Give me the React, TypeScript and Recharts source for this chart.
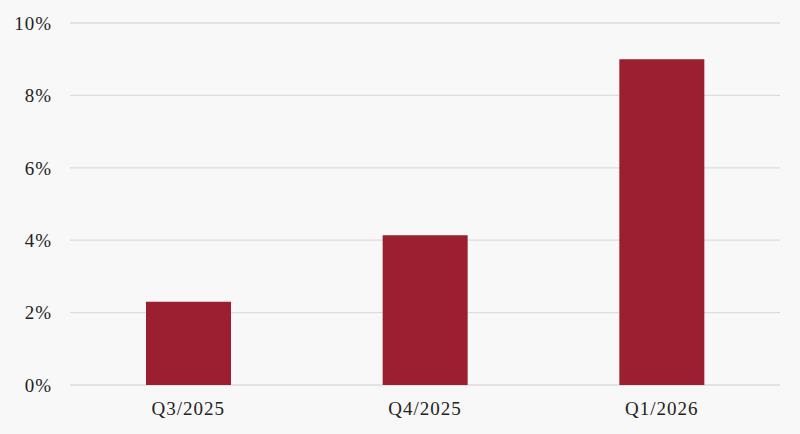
import React from 'react';
import { BarChart, Bar, XAxis, YAxis, CartesianGrid } from 'recharts';

const quarters = ['Q3/2025', 'Q4/2025', 'Q1/2026'];
const values = [2.3, 4.14, 9.0];
const yTicks = [0, 2, 4, 6, 8, 10];

const data = quarters.map((q, i) => ({ quarter: q, value: values[i] }));

const font = { fontFamily: '"Liberation Serif", serif', fontSize: 19, fill: '#222222', letterSpacing: 1 };

const App: React.FC = () => {
    return (
        <div style={{ position: 'fixed', left: 0, top: 0, width: 800, height: 434, background: '#f8f8f8' }}>
            <BarChart
                width={800}
                height={434}
                data={data}
                margin={{ top: 23, right: 20, left: 0, bottom: 19 }}
                barSize={85}
            >
                <CartesianGrid vertical={false} stroke="#dddddd" strokeWidth={1.3} />
                <XAxis
                    dataKey="quarter"
                    tickLine={false}
                    axisLine={false}
                    tick={font}
                    tickMargin={11}
                    height={30}
                />
                <YAxis
                    domain={[0, 10]}
                    ticks={yTicks}
                    tickFormatter={(v) => `${v}%`}
                    tickLine={false}
                    axisLine={false}
                    tick={font}
                    width={70}
                    tickSize={0}
                    tickMargin={18}
                />
                <Bar dataKey="value" fill="#9b1f30" isAnimationActive={false} />
            </BarChart>
        </div>
    );
};

export default App;
